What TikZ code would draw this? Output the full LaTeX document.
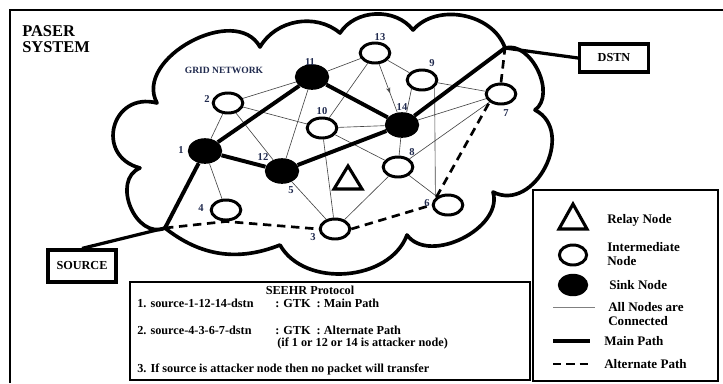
\documentclass[tikz,border=0pt]{standalone}
\usepackage{fontspec}
\setmainfont{Liberation Serif}
\usetikzlibrary{arrows.meta,positioning,shapes.geometric,decorations.markings}

\definecolor{labblue}{RGB}{32,42,78}
\definecolor{linkgray}{RGB}{70,70,70}

\tikzset{
  every node/.style={font=\bfseries},
  inode/.style={ellipse,draw,line width=2.1pt,fill=white,minimum width=0.74cm,minimum height=0.5cm,inner sep=0pt},
  snode/.style={ellipse,fill=black,minimum width=0.86cm,minimum height=0.64cm,inner sep=0pt},
  numlab/.style={font=\fontsize{7.5}{8}\selectfont\bfseries,text=labblue,inner sep=0pt},
  link/.style={line width=0.45pt,draw=linkgray},
  mainpath/.style={line width=2.8pt},
  altpath/.style={line width=1.9pt,dash pattern=on 6pt off 4pt},
  cloudline/.style={line width=2.6pt,line join=round},
  endbox/.style={draw,line width=2.5pt,minimum width=1.7cm,minimum height=0.78cm,font=\fontsize{8.7}{9}\selectfont\bfseries},
  infobox/.style={draw,line width=1.8pt,inner sep=0pt},
  txt/.style={anchor=west,inner sep=0pt,font=\fontsize{8.7}{9}\selectfont\bfseries},
  legtxt/.style={anchor=west,inner sep=0pt,align=left,font=\fontsize{9.3}{9.4}\selectfont\bfseries},
  relay/.style={line width=2.2pt,line join=miter},
  midarrow/.style={postaction={decorate},decoration={markings,mark=at position 0.6 with {\arrow{Stealth[length=4pt,width=3pt]}}}}
}

\begin{document}
\begin{tikzpicture}[x=0.025cm,y=-0.025cm]
  \useasboundingbox (0,0) rectangle (723,383);
  % frame and title
  \draw[line width=2pt] (10,383) -- (10,10) -- (723,10);
  \node[anchor=west,align=left,inner sep=0pt,font=\fontsize{11.7}{11.5}\selectfont\bfseries] (title) at (22,39) {PASER\\SYSTEM};

  % cloud
  \coordinate (src) at (165,228);
  \coordinate (dst) at (505,48);
  \draw[cloudline] (src) to[bend right=30] (280,245) to[bend right=65] (407,235)
     to[bend right=80] (493,192) to[bend right=90,looseness=1.3] (535,110)
     to[bend right=80] (dst) to[bend right=60] (413,30) to[bend right=55] (340,33)
     to[bend right=50] (260,47) to[bend right=90,looseness=1.1] (157,103)
     to[bend right=90,looseness=1.8] (140,168) to[bend right=90,looseness=1.25] (src);
  \node[font=\fontsize{6.8}{7}\selectfont\bfseries,text=labblue] (grid) at (224,70) {GRID NETWORK};

  % network nodes
  \node[snode] (n1) at (205,151) {};
  \node[inode] (n2) at (228,103) {};
  \node[inode] (n3) at (335,229) {};
  \node[inode] (n4) at (226,210) {};
  \node[inode] (n6) at (448,205) {};
  \node[inode] (n7) at (501,94) {};
  \node[inode] (n8) at (398,167) {};
  \node[inode] (n9) at (422,80) {};
  \node[inode] (n10) at (322,128) {};
  \node[snode] (n11) at (312,77) {};
  \node[snode] (n12) at (282,171) {};
  \node[inode] (n13) at (375,53) {};
  \node[snode] (n14) at (402,125) {};

  % thin links
  \foreach \a/\b in {n2/n11,n2/n1,n2/n10,n2/n12,n11/n12,n11/n13,n13/n10,n13/n9,n9/n7,
                     n14/n7,n10/n14,n10/n8,n10/n3,n14/n8,n8/n6,n8/n3,n7/n8,n12/n3,n1/n4}
    \draw[link] (\a) -- (\b);
  \draw[link] (n9.-30) -- (n6.150);
  \draw[link] (n9.220) -- (n14.70);
  \draw[link,midarrow] (n13) -- (n14);

  % main path
  \foreach \a/\b in {src/n1,n1/n11,n11/n14,n1/n12,n12/n14,n14/dst}
    \draw[mainpath] (\a) -- (\b);

  % alternate path
  \draw[altpath] (src) -- (n4.south) -- (n3.west);
  \draw[altpath] (n3.east) -- (n6.west);
  \draw[altpath] (n6.north west) -- (n7.south west);
  \draw[altpath] (n7.north) -- (dst);

  % relay node
  \draw[relay] (348,166) -- (362,189) -- (334,189) -- cycle;

  % numbers
  \node[numlab] (l1) at (181,150) {1};
  \node[numlab] (l2) at (207,99) {2};
  \node[numlab] (l3) at (313,237) {3};
  \node[numlab] (l4) at (201,208) {4};
  \node[numlab] (l5) at (291,190) {5};
  \node[numlab] (l6) at (427,203) {6};
  \node[numlab] (l7) at (506,113) {7};
  \node[numlab] (l8) at (412,152) {8};
  \node[numlab] (l9) at (432,63) {9};
  \node[numlab] (l10) at (322,111) {10};
  \node[numlab] (l11) at (310,62) {11};
  \node[numlab] (l12) at (263,157) {12};
  \node[numlab] (l13) at (380,37) {13};
  \node[numlab] (l14) at (402,107) {14};

  % source / destination
  \node[endbox,line width=2.8pt] (source) at (82,266) {SOURCE};
  \node[endbox,line width=2.3pt,minimum width=1.72cm,minimum height=0.7cm] (dstn) at (614,58) {DSTN};
  \draw[line width=2.3pt] (source.north) -- (src);
  \draw[line width=2.3pt] (dst) -- (dstn.west);

  % protocol box
  \node[infobox,minimum width=10cm,minimum height=2.45cm] (proto) at (330,331) {};
  \node[txt,anchor=center] (ptitle) at (310,290) {SEEHR Protocol};
  \node[txt] (p1) at (137,303) {1. source-1-12-14-dstn};
  \node[txt] (p1b) at (275,303) {: GTK\ \ : Main Path};
  \node[txt] (p2) at (137,330) {2. source-4-3-6-7-dstn};
  \node[txt] (p2b) at (275,330) {: GTK\ \ : Alternate Path};
  \node[txt] (p2c) at (277,343) {(if 1 or 12 or 14 is attacker node)};
  \node[txt] (p3) at (137,369) {3. If source is attacker node then no packet will transfer};

  % legend
  \node[infobox,minimum width=4.625cm,minimum height=4.775cm] (legend) at (625.5,285.5) {};
  \draw[relay] (573,204) -- (587,229) -- (559,229) -- cycle;
  \node[inode,minimum width=0.68cm,minimum height=0.5cm] (kinode) at (573,255) {};
  \node[snode,minimum width=0.76cm,minimum height=0.56cm] (ksnode) at (573,285) {};
  \draw[link,draw=gray] (553,307) -- (595,307);
  \draw[mainpath] (553,341) -- (590,341);
  \draw[altpath,dash pattern=on 6pt off 3.5pt] (553,364) -- (592,364);
  \node[legtxt] (k1) at (607,220) {Relay Node};
  \node[legtxt] (k2) at (607,254) {Intermediate\\Node};
  \node[legtxt] (k3) at (609,285) {Sink Node};
  \node[legtxt] (k4) at (608,314) {All Nodes are\\Connected};
  \node[legtxt] (k5) at (604,341) {Main Path};
  \node[legtxt] (k6) at (604,364) {Alternate Path};
\end{tikzpicture}
\end{document}
